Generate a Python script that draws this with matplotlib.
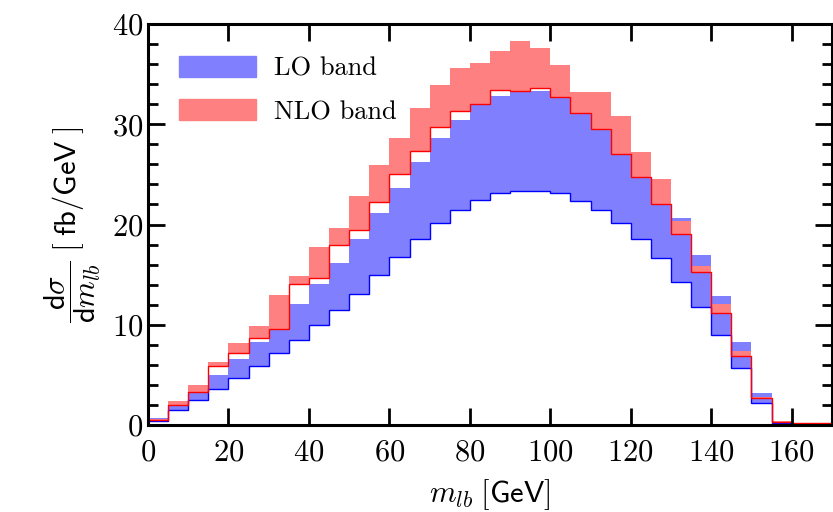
import numpy as np
import matplotlib
matplotlib.use("Agg")
from matplotlib import pyplot as plt
from matplotlib.patches import Patch
from matplotlib.ticker import MultipleLocator

# bin edges in m_lb [GeV]
edges = np.arange(0, 171, 5)

# LO band (lower / upper) and NLO band (lower / upper), fb/GeV
lo_low = [0.43, 1.5, 2.5, 3.56, 4.66, 5.85, 7.15, 8.48, 9.98, 11.44, 13.07, 14.93,
          16.73, 18.52, 20.15, 21.42, 22.45, 23.1, 23.38, 23.3, 23.1, 22.38, 21.4,
          20.15, 18.52, 16.7, 14.3, 11.8, 8.98, 5.72, 2.16, 0.2, 0.12, 0.1]
lo_up = [0.67, 1.96, 3.26, 5.0, 6.58, 8.31, 9.61, 12.04, 14.07, 16.13, 18.55, 21.15,
         23.64, 26.24, 28.63, 30.43, 31.93, 32.86, 33.2, 33.35, 32.7, 31.1, 29.5,
         27.0, 24.75, 22.0, 20.6, 16.96, 12.87, 8.28, 3.16, 0.28, 0.17, 0.14]
nlo_low = [0.45, 1.96, 3.26, 5.85, 7.2, 8.65, 9.61, 14.03, 14.7, 18.0, 19.45, 22.2,
           25.07, 27.37, 29.73, 31.36, 32.06, 33.45, 33.3, 33.65, 32.7, 31.1, 29.5,
           27.0, 24.75, 22.0, 19.1, 15.23, 11.2, 6.88, 2.66, 0.3, 0.2, 0.17]
nlo_up = [0.55, 2.4, 4.0, 6.25, 8.18, 9.84, 12.94, 14.83, 17.73, 19.62, 22.85, 25.94,
          28.63, 31.6, 33.9, 35.58, 36.1, 37.3, 38.3, 37.6, 35.9, 33.2, 33.2,
          30.8, 27.24, 24.54, 20.35, 15.9, 12.07, 7.42, 2.76, 0.35, 0.24, 0.2]

plt.rcParams["font.family"] = "cmr10"
plt.rcParams["mathtext.fontset"] = "cm"
plt.rcParams["axes.formatter.use_mathtext"] = True

fig = plt.figure(figsize=(8.33, 5.12), dpi=100)
ax = fig.add_axes([0.1777, 0.170, 0.821, 0.783])

blue_fill, red_fill = "#8080ff", "#ff8080"

ax.stairs(lo_up, edges, baseline=lo_low, fill=True, color=blue_fill, lw=0)
ax.stairs(nlo_up, edges, baseline=nlo_low, fill=True, color=red_fill, lw=0)
ax.stairs(lo_low, edges, baseline=None, color="blue", lw=1.0)
ax.stairs(nlo_low, edges, baseline=None, color="red", lw=1.0)

ax.set_xlim(0, 170)
ax.set_ylim(0, 40)
ax.xaxis.set_major_locator(MultipleLocator(20))
ax.yaxis.set_major_locator(MultipleLocator(10))
ax.yaxis.set_minor_locator(MultipleLocator(2))
ax.tick_params(which="both", direction="in", top=True, right=True, labelsize=22)
ax.tick_params(which="major", length=12, width=2)
ax.tick_params(which="minor", length=7, width=2)
ax.tick_params(axis="x", which="major", pad=10)
for s in ax.spines.values():
    s.set_linewidth(2.2)

ax.set_xlabel(r"$m_{lb}\;[\mathsf{GeV}]$", fontsize=22, labelpad=8)
ax.set_ylabel(r"$\dfrac{\mathsf{d}\sigma}{\mathsf{d}m_{lb}}\;\left[\;\mathsf{fb/GeV}\;\right]$",
              fontsize=22, labelpad=6)

handles = [Patch(color=blue_fill, label="LO band"), Patch(color=red_fill, label="NLO band")]
ax.legend(handles=handles, loc="upper left", frameon=False, fontsize=19,
          handlelength=2.9, handleheight=0.85, handletextpad=0.7, labelspacing=0.7,
          borderaxespad=0.6, borderpad=0.5, bbox_to_anchor=(0.003, 0.992))

fig.savefig("out.png", dpi=100)
